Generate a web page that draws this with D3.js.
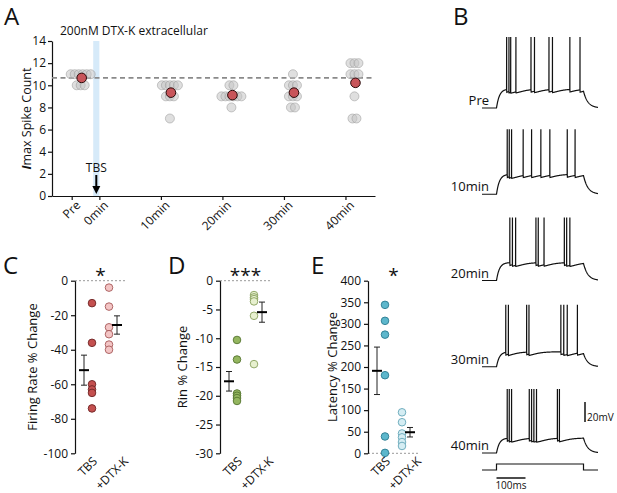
<!DOCTYPE html>
<html>
<head>
<meta charset="utf-8">
<script src="https://cdn.jsdelivr.net/npm/d3@7"></script>
<style>
body { margin: 0; background: #fff; }
svg text { font-family: "Open Sans", sans-serif; fill: #111; }
</style>
</head>
<body>
<div id="fig"></div>
<script>
var svgWidth = 617;
var svgHeight = 493;

// ---- panel A data
var timeLabels = ["Pre", "0min", "10min", "20min", "30min", "40min"];
var timeMinutes = [-4.5, 0, 10, 20, 30, 40];
var groupMinutes = [-4.5, 10, 20, 30, 40];
var countPre = [11, 11, 11, 11, 11, 11, 10, 10, 10];
var count10 = [10, 10, 10, 10, 10, 9, 9, 9, 7];
var count20 = [10, 10, 9, 9, 9, 9, 9, 9, 8];
var count30 = [11, 10, 10, 10, 9, 9, 9, 8, 8];
var count40 = [12, 12, 12, 11, 11, 11, 9, 7, 7];
var countTicks = [0, 2, 4, 6, 8, 10, 12, 14];

// ---- panels C, D, E data
var groups = ["TBS", "+DTX-K"];
var fireTBS = [-13, -36, -60, -63, -65, -74];
var fireDTX = [-4, -15, -27, -31, -37, -40];
var fireSem = [8.7, 5.3];
var fireTicks = [0, -20, -40, -60, -80, -100];
var rinTBS = [-10.3, -13.7, -19.6, -20.0, -20.4, -20.9];
var rinDTX = [-2.5, -2.9, -3.2, -3.6, -6.1, -14.5];
var rinSem = [1.7, 1.75];
var rinTicks = [0, -5, -10, -15, -20, -25, -30];
var latTBS = [344, 307, 275, 181, 39, 1];
var latDTX = [95, 72, 46, 37, 26, 17];
var latSem = [55, 11];
var latTicks = [0, 50, 100, 150, 200, 250, 300, 350, 400];

// ---- panel B data (spike times in ms from step onset)
var traceLabels = ["Pre", "10min", "20min", "30min", "40min"];
var spikesPre = [35, 43, 49, 67, 119, 131, 181, 193, 253, 288];
var spikes10 = [37, 44, 52, 92, 121, 153, 184, 244, 271];
var spikes20 = [46, 55, 66, 136, 144, 164, 234, 242, 253];
var spikes30 = [32, 41, 104, 112, 222, 232, 244, 279];
var spikes40 = [37, 44, 52, 113, 121, 129, 138, 210, 217];
var plateauMv = [19, 20, 18, 15, 15];
var peakMv = [71, 65, 63, 62, 64];
var stepTimes = [0, 300];

var svg = d3.select('#fig').append('svg')
	.attr('width', svgWidth)
	.attr('height', svgHeight);
svg.append('rect').attr('width', svgWidth).attr('height', svgHeight).attr('fill', '#fff');

//-------------------------------------------------------------------------------------------------------
// panel A
var aLeft = 52, aRight = 375, aTop = 41, aBottom = 196;
var xA = d3.scaleLinear().domain([-7.7, 44.8]).range([aLeft, aRight]);
var yA = d3.scaleLinear().domain([0, 14]).range([aBottom, aTop]);
var gA = svg.append('g');

gA.append('rect')
	.attr('x', xA(-1)).attr('y', aTop)
	.attr('width', xA(0) - xA(-1)).attr('height', aBottom - aTop)
	.attr('fill', '#d6eaf9');

var xAxisA = gA.append('g')
	.attr('transform', `translate(0, ${aBottom})`)
	.call(d3.axisBottom(xA).tickValues(timeMinutes).tickFormat((d, i) => timeLabels[i]).tickSize(4).tickSizeOuter(0));
xAxisA.selectAll('text')
	.attr('x', 0).attr('y', 0).attr('dy', 0)
	.attr('text-anchor', 'end')
	.attr('transform', 'translate(9, 10) rotate(-45)')
	.attr('font-size', '12px');

var yAxisA = gA.append('g')
	.attr('transform', `translate(${aLeft}, 0)`)
	.call(d3.axisLeft(yA).tickValues(countTicks).tickSize(4).tickPadding(2).tickSizeOuter(0));
yAxisA.selectAll('text').attr('font-size', '12px');
gA.selectAll('.domain, .tick line').attr('stroke', '#111').attr('stroke-width', 1.2);

var preMean = d3.mean(countPre);
gA.append('line')
	.attr('x1', aLeft).attr('x2', aRight)
	.attr('y1', yA(preMean)).attr('y2', yA(preMean))
	.attr('stroke', '#8a8a8a').attr('stroke-width', 1.6)
	.attr('stroke-dasharray', '5,3.5');

var allCounts = [countPre, count10, count20, count30, count40];
allCounts.forEach(function(vals, gi) {
	var cx = xA(groupMinutes[gi]) + 9;
	var rows = d3.group(vals, v => v);
	rows.forEach(function(list, v) {
		list.forEach(function(d, i) {
			gA.append('circle')
				.attr('cx', cx + (i - (list.length - 1) / 2) * 4)
				.attr('cy', yA(v))
				.attr('r', 4.5)
				.attr('fill', '#c4c4c4').attr('fill-opacity', 0.55)
				.attr('stroke', '#9c9c9c').attr('stroke-opacity', 0.7).attr('stroke-width', 0.8);
		});
	});
});
allCounts.forEach(function(vals, gi) {
	gA.append('circle')
		.attr('cx', xA(groupMinutes[gi]) + 10)
		.attr('cy', yA(d3.mean(vals)))
		.attr('r', 4.8)
		.attr('fill', '#c8555a').attr('stroke', '#2a0a0a').attr('stroke-width', 1);
});

// TBS arrow
var tbsX = xA(-0.5);
gA.append('text').attr('x', tbsX).attr('y', 172).attr('text-anchor', 'middle').attr('font-size', '12px').text('TBS');
gA.append('line').attr('x1', tbsX).attr('x2', tbsX).attr('y1', 175).attr('y2', 187)
	.attr('stroke', '#000').attr('stroke-width', 2);
gA.append('path')
	.attr('d', `M${tbsX - 4},186 L${tbsX + 4},186 L${tbsX},194 Z`)
	.attr('fill', '#000');

gA.append('text').attr('x', 60).attr('y', 35).attr('font-size', '12px').text('200nM DTX-K extracellular');

var yLabA = gA.append('text')
	.attr('transform', `translate(27, ${(aTop + aBottom) / 2}) rotate(-90)`)
	.attr('text-anchor', 'middle').attr('dy', '0.35em').attr('font-size', '12.5px');
yLabA.append('tspan').attr('font-weight', 'bold').attr('font-style', 'italic').text('I');
yLabA.append('tspan').text('max Spike Count');

//-------------------------------------------------------------------------------------------------------
// panels C, D, E
function smallPanel(o) {
	var top = 280.7, bot = 453.3;
	var g = svg.append('g');
	var y = d3.scaleLinear().domain(o.domain).range([bot, top]);
	var x = d3.scalePoint().domain(groups).range([o.axisX + 17, o.axisX + 34]);

	g.append('line')
		.attr('x1', o.axisX).attr('x2', o.axisX + 50)
		.attr('y1', y(0)).attr('y2', y(0))
		.attr('stroke', '#999').attr('stroke-width', 1).attr('stroke-dasharray', '2,2');

	var ax = g.append('g')
		.attr('transform', `translate(${o.axisX}, 0)`)
		.call(d3.axisLeft(y).tickValues(o.ticks).tickFormat(d => String(d)).tickSize(4).tickPadding(3).tickSizeOuter(0));
	ax.selectAll('text').attr('font-size', '12px');
	ax.selectAll('.domain, .tick line').attr('stroke', '#111').attr('stroke-width', 1.2);

	[o.tbs, o.dtx].forEach(function(vals, gi) {
		g.selectAll(null).data(vals).enter().append('circle')
			.attr('cx', x(groups[gi]))
			.attr('cy', d => y(d))
			.attr('r', 3.8)
			.attr('fill', o.fills[gi]).attr('stroke', o.strokes[gi]).attr('stroke-width', 0.9);

		var m = d3.mean(vals);
		var mx = x(groups[gi]) + (gi == 0 ? -8 : 8);
		g.append('line').attr('x1', mx).attr('x2', mx)
			.attr('y1', y(m + o.sem[gi])).attr('y2', y(m - o.sem[gi]))
			.attr('stroke', '#222').attr('stroke-width', 1);
		[m + o.sem[gi], m - o.sem[gi]].forEach(function(v) {
			g.append('line').attr('x1', mx - 3).attr('x2', mx + 3)
				.attr('y1', y(v)).attr('y2', y(v))
				.attr('stroke', '#222').attr('stroke-width', 1);
		});
		g.append('line').attr('x1', mx - 5).attr('x2', mx + 5)
			.attr('y1', y(m)).attr('y2', y(m))
			.attr('stroke', '#000').attr('stroke-width', 2);
	});

	g.selectAll(null).data(groups).enter().append('text')
		.attr('transform', (d, i) => `translate(${x(d) + (i == 0 ? 6 : 20)}, 462) rotate(-45)`)
		.attr('text-anchor', 'end').attr('font-size', '12px')
		.text(d => d);

	g.append('text')
		.attr('x', (x(groups[0]) + x(groups[1])) / 2).attr('y', 282)
		.attr('text-anchor', 'middle').attr('font-size', '19px')
		.text(o.stars);

	g.append('text')
		.attr('transform', `translate(${o.labelX}, ${(top + bot) / 2}) rotate(-90)`)
		.attr('text-anchor', 'middle').attr('dy', '0.35em').attr('font-size', '13px')
		.text(o.label);

	g.append('text').attr('x', o.letterX).attr('y', 274).attr('font-size', '24px').text(o.letter);
}

smallPanel({axisX: 75, domain: [-100, 0], ticks: fireTicks, tbs: fireTBS, dtx: fireDTX, sem: fireSem,
	fills: ['#c4504f', '#f3c5c5'], strokes: ['#6e2424', '#a65858'],
	stars: '*', label: 'Firing Rate %  Change', labelX: 32, letter: 'C', letterX: 3});
smallPanel({axisX: 220, domain: [-30, 0], ticks: rinTicks, tbs: rinTBS, dtx: rinDTX, sem: rinSem,
	fills: ['#94b65f', '#e7f0cf'], strokes: ['#557530', '#88a05c'],
	stars: '***', label: 'Rin % Change', labelX: 182, letter: 'D', letterX: 168});
smallPanel({axisX: 368, domain: [0, 400], ticks: latTicks, tbs: latTBS, dtx: latDTX, sem: latSem,
	fills: ['#5db7cc', '#d5edf3'], strokes: ['#2a7b90', '#64a6b8'],
	stars: '*', label: 'Latency % Change', labelX: 332, letter: 'E', letterX: 311});

//-------------------------------------------------------------------------------------------------------
// panel B
var xB = d3.scaleLinear().domain([-50, 350]).range([482, 598]);
var yOffB = d3.scalePoint().domain(traceLabels).range([108, 453]);
var allSpikes = [spikesPre, spikes10, spikes20, spikes30, spikes40];

function ahp(t, spikes) {
	var a = 0;
	spikes.forEach(function(s) { if (s < t) a += Math.exp(-(t - s) / 22); });
	return -4.5 * (1 - Math.exp(-a));
}
function membrane(t, spikes, plat) {
	if (t < 0) return 0;
	if (t <= 300) return plat * (1 - Math.exp(-t / 10)) + ahp(t, spikes);
	var v300 = plat + ahp(300, spikes);
	return v300 * Math.exp(-(t - 300) / 15);
}

var gB = svg.append('g');
allSpikes.forEach(function(spikes, ti) {
	var ts = d3.range(-50, 350.5, 1);
	spikes.forEach(function(s) { ts.push(s - 0.3, s + 0.6); });
	ts.sort((a, b) => a - b);
	var pts = [];
	ts.forEach(function(t) {
		pts.push([t, membrane(t, spikes, plateauMv[ti])]);
		if (spikes.indexOf(t + 0.3) >= 0) pts.push([t + 0.3, peakMv[ti]]);
	});
	var base = yOffB(traceLabels[ti]);
	var line = d3.line().x(d => xB(d[0])).y(d => base - d[1]);
	gB.append('path').attr('d', line(pts))
		.attr('fill', 'none').attr('stroke', '#111').attr('stroke-width', 1.2);
	gB.append('text').attr('x', 489).attr('y', base - 3)
		.attr('text-anchor', 'end').attr('font-size', '13px').text(traceLabels[ti]);
});

// current step
var stepPts = [[-50, 0], [stepTimes[0], 0], [stepTimes[0], 1], [stepTimes[1], 1], [stepTimes[1], 0], [350, 0]];
gB.append('path')
	.attr('d', d3.line().x(d => xB(d[0])).y(d => 470 - d[1] * 6)(stepPts))
	.attr('fill', 'none').attr('stroke', '#111').attr('stroke-width', 1.2);

// scale bars
gB.append('line').attr('x1', xB(0)).attr('x2', xB(100)).attr('y1', 478).attr('y2', 478)
	.attr('stroke', '#111').attr('stroke-width', 1.5);
gB.append('text').attr('x', (xB(0) + xB(100)) / 2).attr('y', 489).attr('text-anchor', 'middle')
	.attr('font-size', '10px').text('100ms');
gB.append('line').attr('x1', 585).attr('x2', 585).attr('y1', 402).attr('y2', 422)
	.attr('stroke', '#111').attr('stroke-width', 1.5);
gB.append('text').attr('x', 587).attr('y', 421).attr('font-size', '10px').text('20mV');

svg.append('text').attr('x', 4).attr('y', 25).attr('font-size', '24px').text('A');
svg.append('text').attr('x', 453).attr('y', 25).attr('font-size', '24px').text('B');
</script>
</body>
</html>
